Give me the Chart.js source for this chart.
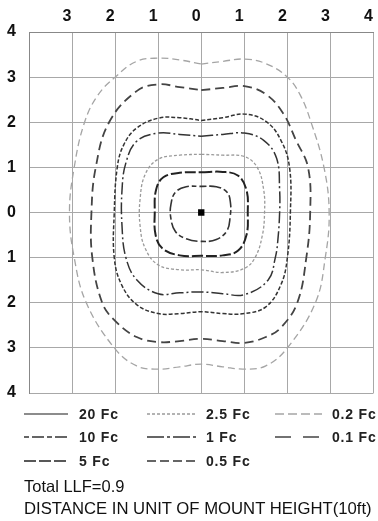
<!DOCTYPE html>
<html><head><meta charset="utf-8">
<script src="https://cdn.jsdelivr.net/npm/chart.js@4"></script>
<style>
html,body{margin:0;padding:0;background:#fff;width:378px;height:521px;overflow:hidden;font-family:"Liberation Sans",Arial,sans-serif;}
#wrap{position:absolute;left:0;top:0;width:378px;height:410px;}
.lg{position:absolute;font-weight:bold;font-size:14px;letter-spacing:0.8px;color:#222;line-height:16px;white-space:nowrap;}
.note{position:absolute;left:24px;color:#111;line-height:18px;white-space:nowrap;}
svg.s{position:absolute;overflow:visible;}
</style></head><body>
<div id="wrap"><canvas id="c" width="378" height="410"></canvas></div>
<div id="legend"></div>
<div class="note" style="top:477px;font-size:16.5px;">Total LLF=0.9</div>
<div class="note" style="top:500px;font-size:16.7px;">DISTANCE IN UNIT OF MOUNT HEIGHT(10ft)</div>
<script>
// ---- data ----
const levels = ['20 Fc','10 Fc','5 Fc','2.5 Fc','1 Fc','0.5 Fc','0.2 Fc','0.1 Fc'];
const xTickValues = [-4,-3,-2,-1,0,1,2,3,4];
const yTickValues = [-4,-3,-2,-1,0,1,2,3,4];
const fixture = [[0,0]];
// contours (x, y in mount heights)
const contour10 = [[0,0.58],[0.35,0.57],[0.6,0.45],[0.68,0.2],[0.67,-0.1],[0.6,-0.4],[0.35,-0.6],[0,-0.64],[-0.35,-0.58],[-0.6,-0.42],[-0.71,-0.1],[-0.7,0.2],[-0.6,0.45],[-0.35,0.57]];
const contour5 = [[0,0.89],[0.5,0.9],[0.85,0.82],[1.05,0.5],[1.08,0],[1.05,-0.5],[0.85,-0.85],[0.5,-0.95],[0,-0.96],[-0.5,-0.95],[-0.9,-0.8],[-1.06,-0.5],[-1.08,0],[-1.05,0.5],[-0.88,0.78],[-0.5,0.88]];
const contour2_5 = [[0,1.29],[0.5,1.27],[1,1.24],[1.3,1.0],[1.45,0.5],[1.47,0],[1.42,-0.5],[1.25,-1.0],[1,-1.24],[0.5,-1.33],[0,-1.27],[-0.5,-1.27],[-1,-1.16],[-1.3,-0.8],[-1.42,-0.3],[-1.42,0.3],[-1.3,0.85],[-1,1.18],[-0.5,1.27]];
const contour1 = [[0,1.69],[0.5,1.73],[1,1.76],[1.45,1.6],[1.75,1.2],[1.82,0.5],[1.82,0],[1.78,-0.6],[1.72,-1],[1.55,-1.5],[1,-1.82],[0.5,-1.8],[0,-1.76],[-0.5,-1.78],[-1,-1.8],[-1.5,-1.49],[-1.75,-1],[-1.84,-0.3],[-1.84,0.5],[-1.75,1.1],[-1.5,1.58],[-1,1.76],[-0.5,1.73]];
const contour0_5 = [[0,2.04],[0.5,2.1],[1,2.18],[1.5,2.02],[1.85,1.6],[2.05,1],[2.07,0],[2.0,-1],[1.85,-1.6],[1.5,-2.09],[1,-2.24],[0.5,-2.24],[0,-2.2],[-0.5,-2.24],[-1,-2.24],[-1.5,-2.04],[-1.85,-1.6],[-2.02,-1],[-2.02,0],[-1.95,1],[-1.8,1.5],[-1.5,1.87],[-1,2.09],[-0.5,2.1]];
const contour0_1 = [[0,2.71],[0.5,2.76],[1,2.8],[1.5,2.62],[1.9,2.2],[2.2,1.6],[2.48,1],[2.53,0],[2.44,-1],[2.23,-2],[1.85,-2.55],[1.5,-2.76],[1,-2.89],[0.5,-2.85],[0,-2.8],[-0.5,-2.85],[-1,-2.87],[-1.5,-2.76],[-2,-2.4],[-2.3,-2],[-2.53,-1],[-2.55,0],[-2.45,1],[-2.14,2],[-1.5,2.69],[-1,2.84],[-0.5,2.78]];
const contour0_2 = [[0,3.29],[0.5,3.35],[1,3.4],[1.5,3.3],[2.0,3.0],[2.3,2.6],[2.55,2.0],[2.85,1.0],[2.97,0],[2.88,-1],[2.65,-2],[2.0,-3.0],[1.5,-3.4],[1,-3.47],[0.5,-3.42],[0,-3.36],[-0.5,-3.42],[-1,-3.47],[-1.5,-3.4],[-2.02,-3.0],[-2.67,-2],[-2.95,-1],[-3.06,0],[-2.95,1],[-2.71,2],[-2.4,2.6],[-2.0,3.0],[-1.5,3.35],[-1,3.42],[-0.5,3.38]];

// ---- styles ----
const styles = {
  '20 Fc':  {color:'#666', width:1.3, dash:[]},
  '10 Fc':  {color:'#333', width:1.6, dash:[5,3,12,3]},
  '5 Fc':   {color:'#222', width:2.0, dash:[11,3]},
  '2.5 Fc': {color:'#9a9a9a', width:1.3, dash:[3,2]},
  '1 Fc':   {color:'#333', width:1.5, dash:[12,3,2,3]},
  '0.5 Fc': {color:'#333', width:1.5, dash:[4,2]},
  '0.2 Fc': {color:'#a5a5a5', width:1.3, dash:[7,4]},
  '0.1 Fc': {color:'#444', width:1.8, dash:[9,5]}
};
const contourSets = [['10 Fc',contour10],['5 Fc',contour5],['2.5 Fc',contour2_5],['1 Fc',contour1],['0.5 Fc',contour0_5],['0.1 Fc',contour0_1],['0.2 Fc',contour0_2]];

const datasets = contourSets.map(([lv,pts])=>{
  const st = styles[lv];
  const d = pts.map(([x,y])=>({x,y}));
  d.push({x:pts[0][0],y:pts[0][1]});
  return {label:lv,data:d,showLine:true,pointRadius:0,borderColor:st.color,borderWidth:st.width,borderDash:st.dash,tension:0.4,fill:false};
});
datasets.push({label:'fixture',data:fixture.map(([x,y])=>({x,y})),showLine:false,pointStyle:'rect',pointRadius:4.5,backgroundColor:'#000',borderColor:'#000',borderWidth:0});

const tickFont = {family:'"Liberation Sans", Arial, sans-serif',size:16,weight:'bold'};
new Chart(document.getElementById('c'),{
  type:'scatter',
  data:{datasets},
  options:{
    responsive:false,animation:false,devicePixelRatio:1,
    layout:{padding:{right:1,bottom:17,top:0,left:0}},
    plugins:{legend:{display:false},tooltip:{enabled:false}},
    scales:{
      x:{type:'linear',position:'top',min:-4,max:4,
        afterBuildTicks(s){s.ticks=xTickValues.map(v=>({value:v}));},
        ticks:{autoSkip:false,maxRotation:0,labelOffset:-5,padding:6,color:'#111',font:tickFont,
          callback:v=>v===-4?'':String(Math.abs(v))},
        grid:{color:'#a8a8a8',lineWidth:1,drawTicks:false},
        border:{color:'#888',width:1},
        afterFit(s){s.height=32;s.paddingLeft=0;s.paddingRight=0;}
      },
      y:{type:'linear',min:-4,max:4,
        afterBuildTicks(s){s.ticks=yTickValues.map(v=>({value:v}));},
        ticks:{autoSkip:false,padding:13,color:'#111',font:tickFont,callback:v=>String(Math.abs(v))},
        grid:{color:'#a8a8a8',lineWidth:1,drawTicks:false},
        border:{color:'#888',width:1},
        afterFit(s){s.width=29;s.paddingTop=0;s.paddingBottom=0;}
      }
    }
  }
});

// ---- legend (HTML) ----
const legendOrder = [['20 Fc','2.5 Fc','0.2 Fc'],['10 Fc','1 Fc','0.1 Fc'],['5 Fc','0.5 Fc']];
const colLine = [[24,68],[147,197],[275,322]];
const colText = [79,206,332];
const rowY = [414,437,461];
const lg = document.getElementById('legend');
legendOrder.forEach((row,r)=>row.forEach((lv,c)=>{
  const st = styles[lv];
  let dash = st.dash.length ? st.dash : [];
  if(lv==='0.1 Fc') dash=[16,12];
  if(lv==='0.5 Fc'||lv==='0.2 Fc') dash=[9,4];
  if(lv==='5 Fc') dash=[12,3];
  if(lv==='1 Fc') dash=[17,3,3,3];
  const w = colLine[c][1]-colLine[c][0];
  const svg = `<svg class="s" style="left:${colLine[c][0]}px;top:${rowY[r]-8}px" width="${w}" height="16"><line x1="0" y1="8" x2="${w}" y2="8" stroke="${st.color}" stroke-width="${Math.min(st.width,1.6)}" ${dash.length?`stroke-dasharray="${dash.join(',')}"`:''}/></svg>`;
  lg.insertAdjacentHTML('beforeend',svg+`<div class="lg" style="left:${colText[c]}px;top:${rowY[r]-8}px">${lv}</div>`);
}));
</script>
</body></html>
